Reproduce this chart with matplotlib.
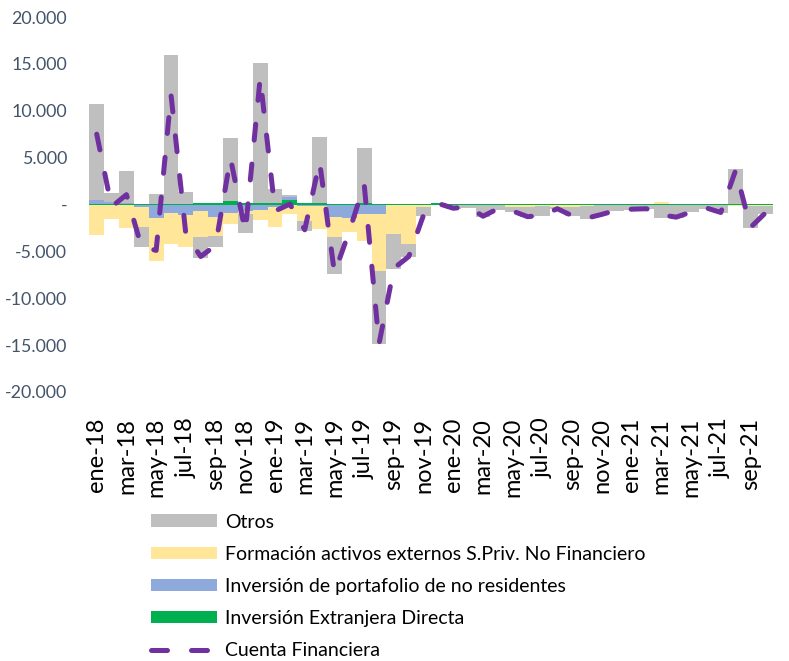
import matplotlib
matplotlib.use("Agg")
import matplotlib.pyplot as plt
import numpy as np
from matplotlib.patches import Patch
from matplotlib.lines import Line2D
from matplotlib.ticker import FuncFormatter, MultipleLocator

plt.rcParams['font.family'] = ['Lato', 'DejaVu Sans']

months = ["ene", "feb", "mar", "abr", "may", "jun", "jul", "ago", "sep", "oct", "nov", "dic"]
categories = [f"{m}-{y}" for y in ["18", "19", "20", "21"] for m in months][:46]

# values in millions (USD)
ied = [50, 50, 100, 50, 50, 100, 100, 150, 150, 400, 150, 150,
       150, 500, 150, 150, 100, 100, 150, 50, 50, 50, 100, 150,
       50, 100, 50, 100, 50, 50, 50, 50, 50, 50, 50, 50,
       50, 50, 50, 50, 50, 50, 50, 50, 50, 50]
portafolio = [400, 250, 50, -300, -1450, -900, -1100, -700, -1350, -900, -700, -600,
              -300, 250, -200, -200, -1350, -1450, -1000, -1000, 0, 0, 0, 0,
              0, 0, 0, 0, 0, 0, 0, 0, 0, 0, 0, 50,
              0, 0, 0, 0, 0, 50, 0, 0, 0, 50]
formacion = [-3250, -1500, -2500, -2100, -4600, -3300, -3400, -2800, -2050, -1200, -300, -1000,
             -2050, -1000, -1600, -2400, -2150, -1500, -2900, -6050, -3100, -4200, -300, -50,
             -50, -50, -100, -50, -300, -250, -200, -250, -250, -200, -100, -100,
             -100, -100, 250, -50, -50, -50, -100, -150, -200, -200]
otros = [10300, 950, 3400, -2100, 1100, 15800, 1200, -2200, -1100, 6650, -2050, 14950,
         1500, 300, -1050, 7000, -3900, 0, 5900, -7850, -3750, -1400, -900, 0,
         -400, -300, -1200, -500, -450, -1100, -1000, -250, -1000, -1300, -1000, -600,
         -450, -400, -1400, -1350, -800, -400, -800, 3750, -2300, -800]
cuenta_financiera = [7500, -250, 1050, -4450, -4900, 11700, -3200, -5550, -4350, 4950, -2900, 13500,
                     -700, 50, -2700, 4550, -7300, -2850, 2150, -14850, -6800, -5550, -1100, 100,
                     -400, -250, -1250, -450, -700, -1300, -1150, -450, -1200, -1450, -1050, -600,
                     -500, -450, -1100, -1350, -800, -350, -850, 3650, -2450, -900]

series = [
    ("Inversión Extranjera Directa", ied, "#00B050"),
    ("Inversión de portafolio de no residentes", portafolio, "#8EA9DB"),
    ("Formación activos externos S.Priv. No Financiero", formacion, "#FFE699"),
    ("Otros", otros, "#BFBFBF"),
]

W, H = 789, 661
fig = plt.figure(figsize=(W / 100, H / 100), dpi=100)
ax = fig.add_axes([89.3 / W, (H - 392) / H, (772.8 - 89.3) / W, (392 - 17) / H])

x = np.arange(len(categories))
pos_base = np.zeros(len(categories))
neg_base = np.zeros(len(categories))
for name, vals, color in series:
    v = np.asarray(vals, dtype=float)
    bottom = np.where(v >= 0, pos_base, neg_base)
    ax.bar(x, v, width=1.0, bottom=bottom, color=color, linewidth=0, label=name, zorder=2)
    pos_base = pos_base + np.where(v > 0, v, 0)
    neg_base = neg_base + np.where(v < 0, v, 0)

ln, = ax.plot(x, cuenta_financiera, color="#7030A0", lw=3.6, zorder=3,
              dash_capstyle="round", solid_capstyle="round", label="Cuenta Financiera")
ln.set_dashes((3.2, 4.8))

ax.set_xlim(-0.5, len(categories) - 0.5)
ax.set_ylim(-20000, 20000)
ax.yaxis.set_major_locator(MultipleLocator(5000))


def fmt(v, pos):
    if abs(v) < 1e-6:
        return "-"
    return f"{v:,.0f}".replace(",", ".")


ax.yaxis.set_major_formatter(FuncFormatter(fmt))
ax.set_xticks(x[::2])
ax.set_xticklabels(categories[::2], rotation=90, fontsize=17, color="black")
ax.tick_params(axis="x", length=0, pad=18.5)
ax.tick_params(axis="y", length=0, pad=16, labelsize=12.8, labelcolor="#44546A")
for s in ax.spines.values():
    s.set_visible(False)

handles = [
    Patch(facecolor="#BFBFBF", label="Otros"),
    Patch(facecolor="#FFE699", label="Formación activos externos S.Priv. No Financiero"),
    Patch(facecolor="#8EA9DB", label="Inversión de portafolio de no residentes"),
    Patch(facecolor="#00B050", label="Inversión Extranjera Directa"),
    Line2D([0], [0], color="#7030A0", lw=3.6, dashes=(3.2, 4.8), dash_capstyle="round",
           label="Cuenta Financiera"),
]
fs = 14.0
fs_px = fs * 100 / 72
fig.legend(handles=handles, loc="upper left", bbox_to_anchor=(150.7 / W, 1 - 513.5 / H),
           frameon=False, fontsize=fs, borderpad=0, borderaxespad=0,
           handlelength=66 / fs_px, handleheight=12 / fs_px, handletextpad=8.7 / fs_px,
           labelspacing=0.78)

fig.savefig("out.png", dpi=100)
